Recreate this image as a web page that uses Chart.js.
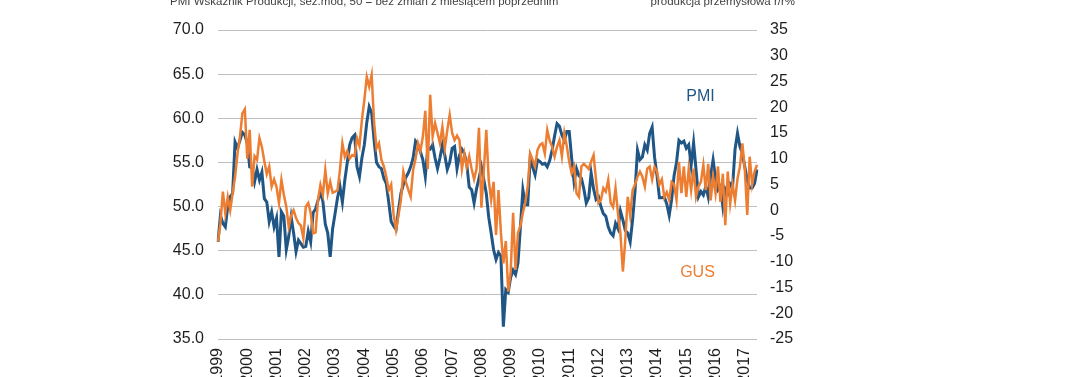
<!DOCTYPE html>
<html>
<head>
<meta charset="utf-8">
<script src="https://cdn.jsdelivr.net/npm/chart.js@4.4.1/dist/chart.umd.min.js"></script>
<style>
  body { margin: 0; background: #fff; }
</style>
</head>
<body>
<canvas id="pmiChart" width="1070" height="377"></canvas>
<script>
// tick labels on the time axis (one per January)
const years = ['1999', '2000', '2001', '2002', '2003', '2004', '2005', '2006', '2007', '2008',
  '2009', '2010', '2011', '2012', '2013', '2014', '2015', '2016', '2017'];

// PMI production index, monthly, left axis
const pmi = [
  46.0, 49.0, 48.1, 47.7, 50.0, 51.1, 51.5, 57.3, 56.6, 57.5, 58.4, 58.1,
  57.2, 54.5, 54.4, 52.8, 54.2, 53.0, 53.9, 50.9, 50.5, 48.3, 49.4, 47.7,
  48.7, 44.3, 49.4, 48.9, 45.1, 46.6, 48.8, 47.0, 44.9, 46.2, 45.8, 45.4,
  45.5, 47.2, 46.0, 49.3, 49.7, 50.7, 51.6, 50.6, 48.0, 47.0, 44.3, 47.5,
  49.2, 51.0, 52.3, 50.5, 53.0, 55.0, 57.0, 57.8, 58.1, 54.5, 53.4, 55.5,
  57.0, 59.5, 61.3, 60.6, 57.5, 55.0, 54.5, 54.3, 53.2, 52.6, 50.5, 48.3,
  47.8, 47.4, 49.6, 51.5, 52.5, 53.3, 53.8, 54.5, 55.5, 57.4, 57.0, 56.2,
  55.3, 53.4, 56.6, 56.5, 57.0, 55.5, 54.3, 55.5, 57.0, 55.8, 54.2, 55.0,
  56.6, 56.8, 54.3, 55.8, 56.5, 56.0, 54.8, 52.2, 51.9, 50.4, 52.0, 53.2,
  54.5, 53.0, 51.5, 48.8, 47.0, 45.1, 44.0, 44.8, 44.4, 36.4, 40.6, 40.3,
  42.0, 42.8, 42.3, 43.6, 47.7, 51.9, 50.2, 50.2, 55.5, 54.5, 53.6, 55.3,
  55.1, 54.8, 54.9, 54.5, 55.2, 56.4, 58.0, 59.4, 59.1, 58.1, 57.5, 58.5,
  58.5, 55.5, 52.8, 54.3, 53.5, 53.2, 52.0, 50.4, 51.0, 53.8, 52.0, 50.8,
  51.1, 50.0, 49.2, 48.9, 47.7, 47.0, 46.7, 48.1, 47.5, 49.5, 48.5, 47.3,
  47.0, 46.0, 48.5, 51.8, 56.4, 55.3, 55.6, 57.0, 56.4, 58.3, 59.0, 55.6,
  53.5, 51.0, 51.0, 51.1, 50.3, 49.0, 50.8, 53.5, 55.0, 57.5, 57.2, 57.4,
  56.6, 57.0, 54.7, 57.2, 54.2, 51.1, 51.7, 51.3, 52.3, 51.1, 53.5, 55.3,
  53.2, 51.9, 52.3, 50.0, 52.0, 51.5, 52.6, 52.3, 56.5, 58.3, 56.8, 56.0,
  54.5, 53.0, 52.1, 52.1, 52.6, 54.2
];

// GUS industrial production y/y %, monthly, right axis
const gus = [
  -6.1, -2.5, 3.6, -0.6, 2.6, 0.0, 3.3, 6.5, 11.0, 14.3, 18.8, 19.6,
  10.0, 15.6, 4.6, 10.5, 9.8, 14.0, 12.3, 9.5, 7.0, 8.5, 4.6, 6.0,
  4.5, 1.4, 5.9, 3.0, 0.7, -3.2, -1.0, 0.0, -1.5, -2.5, -3.0, -5.4,
  0.7, 1.4, -0.5, -4.5, -4.3, 2.0, 4.9, 3.0, 7.8, 3.3, 5.5, 3.4,
  3.6, 3.9, 7.8, 13.0, 10.4, 11.5, 10.0, 10.7, 10.5, 14.0, 12.5, 17.5,
  21.4, 25.9, 24.0, 26.3, 17.0, 12.0, 13.0, 9.8, 8.5, 6.5, 3.9, 5.0,
  -0.9, -3.8, -1.0, 2.0, 7.5, 5.5, 4.0, 2.6, 7.8, 10.0, 13.0, 11.5,
  14.3, 19.3, 8.0, 22.4, 14.3, 16.9, 15.0, 13.0, 16.2, 12.0, 15.5, 18.5,
  15.0, 13.6, 14.5, 13.6, 8.0, 11.0, 8.5, 10.5, 8.0, 6.0, 8.0, 16.0,
  0.5, 7.8, 15.6, 5.9, 2.0, 5.5, -4.8, 3.9, -4.4, -10.3, -6.0, -15.8,
  -12.0, -0.5, -11.6, -4.4, -3.0, -0.5, 1.5, 4.6, 11.0, 9.8, 8.5, 11.7,
  12.7, 13.0, 11.0, 15.6, 13.5, 12.3, 10.4, 12.3, 13.6, 10.5, 15.0, 12.5,
  9.4, 7.2, 8.5, 3.3, 2.6, 8.5, 9.0, 8.5, 8.0, 9.5, 10.7, 5.9,
  1.4, 2.0, 4.3, 3.6, 5.9, 1.4, 0.6, 4.3, -0.6, -4.5, -11.9, -5.8,
  2.6, -1.0, 3.9, 5.0, 6.5, 7.5, 6.5, 4.6, 8.1, 8.5, 6.0, 8.4,
  7.5, 5.0, 6.0, 2.5, 3.5, 2.0, 5.5, 5.0, 2.0, 9.4, 3.3, 8.5,
  2.6, 8.0, 3.9, 8.1, 2.6, 4.6, 5.5, 8.8, 3.9, 9.0, 1.9, 6.5,
  3.3, 8.5, 1.6, 7.1, -2.9, 7.5, 1.3, 5.0, 1.9, 6.1, 8.5, 13.0,
  8.0, -0.9, 10.4, 5.0, 7.5, 8.8
];

const leftTitle = 'PMI Wskaźnik Produkcji, sez.mod, 50 = bez zmian z miesiącem poprzednim';
const rightTitle = 'produkcja przemysłowa r/r%';

// one category per month, labelled by its year
const months = pmi.map((v, i) => years[Math.floor(i / 12)] + '-' + String(i % 12 + 1).padStart(2, '0'));

const blue = '#1F5685';
const orange = '#ED7D31';

Chart.defaults.font.family = "'Liberation Sans', Arial, sans-serif";
Chart.defaults.color = '#1E1E1E';

const notes = {
  id: 'notes',
  afterDraw(chart) {
    const c = chart.ctx;
    const x = chart.scales.x, y = chart.scales.y, y1 = chart.scales.y1;
    c.save();
    c.font = "11.5px 'Liberation Sans', Arial, sans-serif";
    c.fillStyle = '#404040';
    c.textBaseline = 'alphabetic';
    c.textAlign = 'left';
    c.fillText(leftTitle, 170, 5);
    c.textAlign = 'right';
    c.fillText(rightTitle, 795, 5);

    c.font = "16px 'Liberation Sans', Arial, sans-serif";
    c.textAlign = 'left';
    c.textBaseline = 'middle';
    c.fillStyle = blue;
    c.fillText('PMI', x.getPixelForValue(192), y.getPixelForValue(62.5));
    c.fillStyle = orange;
    c.fillText('GUS', x.getPixelForValue(189.5), y1.getPixelForValue(-12.1));
    c.restore();
  }
};

new Chart(document.getElementById('pmiChart').getContext('2d'), {
  type: 'line',
  data: {
    labels: months,
    datasets: [{
      label: 'GUS',
      data: gus,
      yAxisID: 'y1',
      borderColor: orange,
      borderWidth: 2.5,
      pointRadius: 0,
      tension: 0,
      order: 0
    }, {
      label: 'PMI',
      data: pmi,
      yAxisID: 'y',
      borderColor: blue,
      borderWidth: 3,
      pointRadius: 0,
      tension: 0,
      order: 1
    }]
  },
  options: {
    responsive: false,
    animation: false,
    layout: { padding: { top: 30, left: 0, right: 0, bottom: 0 } },
    plugins: {
      legend: { display: false },
      tooltip: { enabled: false }
    },
    scales: {
      x: {
        type: 'category',
        offset: false,
        grid: { display: false, drawTicks: false },
        border: { display: false },
        ticks: {
          autoSkip: false,
          minRotation: 90,
          maxRotation: 90,
          padding: 9,
          font: { size: 16 },
          callback: (v, i) => (i % 12 === 0 ? years[i / 12] : null)
        },
        afterFit: s => { s.height = 38; }
      },
      y: {
        position: 'left',
        min: 35,
        max: 70,
        grid: { color: '#BFBFBF', lineWidth: 1, drawTicks: false },
        border: { display: false },
        ticks: {
          stepSize: 5,
          padding: 14,
          font: { size: 16 },
          callback: v => v.toFixed(1)
        },
        afterFit: s => { s.width = 218; }
      },
      y1: {
        position: 'right',
        min: -25,
        max: 35,
        grid: { drawOnChartArea: false, drawTicks: false },
        border: { display: false },
        ticks: {
          stepSize: 5,
          padding: 13,
          font: { size: 16 }
        },
        afterFit: s => { s.width = 313; }
      }
    }
  },
  plugins: [notes]
});
</script>
</body>
</html>
